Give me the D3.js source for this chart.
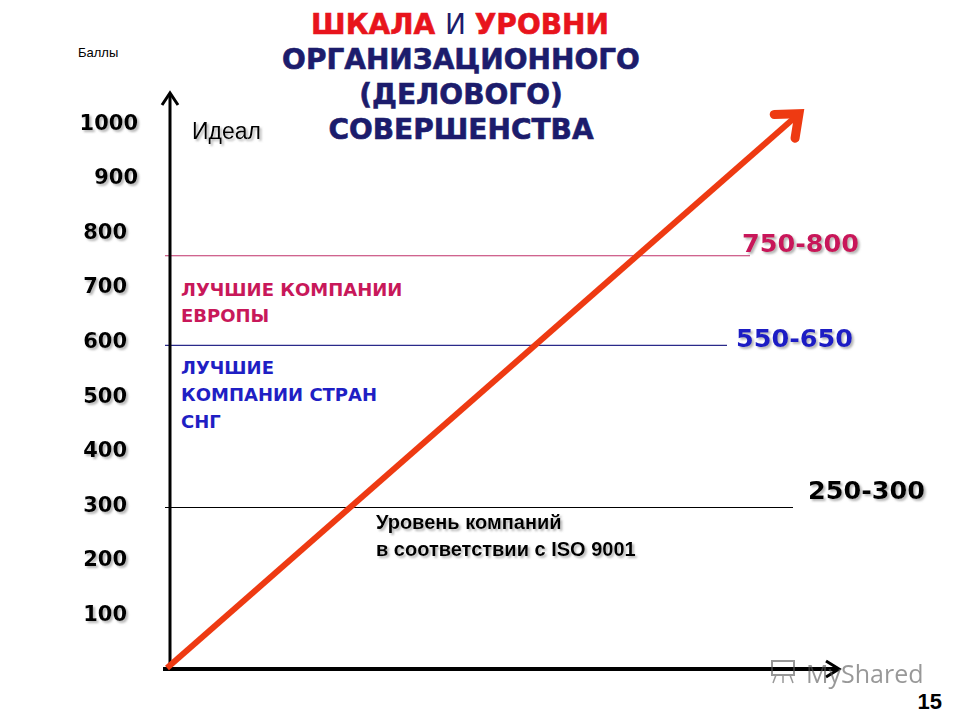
<!DOCTYPE html>
<html>
<head>
<meta charset="utf-8">
<script src="https://cdn.jsdelivr.net/npm/d3@7"></script>
<style>
  body { margin: 0; background: #fff; }
  svg { display: block; }
</style>
</head>
<body>
<div id="chart"></div>
<script>
// Data
const yTicks = [100, 200, 300, 400, 500, 600, 700, 800, 900, 1000];
const levelValues = [755, 591, 294];
const levelLabels = ["750-800", "550-650", "250-300"];
const groupTexts = [
  ["ЛУЧШИЕ КОМПАНИИ", "ЕВРОПЫ"],
  ["ЛУЧШИЕ", "КОМПАНИИ СТРАН", "СНГ"],
  ["Уровень компаний", "в соответствии с ISO 9001"]
];
const idealX = [0, 100];
const idealY = [0, 1020];

// Parameters
const w = 960;
const h = 720;
const levelColors = ["#c8185a", "#1f1fc4", "#000"];
const lineColors = ["#c0306a", "#2a2a8a", "#000"];
const lineEnds = [750, 727, 793];
const labelX = [742, 736, 808];
const labelDy = [-4, 2, -8];
const textX = [181, 181, 376];
const textDy = [40, 29, 22];
const textLead = [26, 27, 27];

const svg = d3.select("#chart").append("svg").attr("width", w).attr("height", h);

const defs = svg.append("defs");
const f = defs.append("filter").attr("id", "shadow")
  .attr("x", "-10%").attr("y", "-20%").attr("width", "130%").attr("height", "160%");
f.append("feDropShadow").attr("dx", 2).attr("dy", 2).attr("stdDeviation", 1)
  .attr("flood-color", "#777").attr("flood-opacity", 0.55);

// Scales
const xScale = d3.scaleLinear().domain([0, 100]).range([167, 802]);
const yScale = d3.scaleLinear().domain([0, 1000]).range([668, 122]);

// Title
const title = svg.append("g").attr("font-family", "DejaVu Sans").attr("font-size", 28)
  .attr("font-weight", "bold").attr("text-anchor", "middle");
const t1 = title.append("text").attr("x", 460).attr("y", 34);
t1.append("tspan").attr("fill", "#e8141c").text("ШКАЛА ");
t1.append("tspan").attr("fill", "#1c1c6c").attr("font-weight", "normal").text("И ");
t1.append("tspan").attr("fill", "#e8141c").text("УРОВНИ");
["ОРГАНИЗАЦИОННОГО", "(ДЕЛОВОГО)", "СОВЕРШЕНСТВА"].forEach((s, i) => {
  title.append("text").attr("x", 461).attr("y", 69 + i * 35).attr("fill", "#1c1c6c")
    .attr("stroke", "#1c1c6c").attr("stroke-width", 0.6).text(s);
});
t1.selectAll("tspan").filter((d, i) => i !== 1)
  .attr("stroke", "#e8141c").attr("stroke-width", 0.6);

// Y label
svg.append("text").attr("x", 78).attr("y", 57).attr("font-family", "Liberation Sans")
  .attr("font-size", 13).attr("fill", "#000").text("Баллы");

// Tick labels
svg.append("g").selectAll("text").data(yTicks).enter().append("text")
  .attr("x", (d) => (d >= 900 ? 138 : 127))
  .attr("y", (d) => yScale(d))
  .attr("dy", "0.36em")
  .attr("text-anchor", "end")
  .attr("font-family", "DejaVu Sans").attr("font-weight", "bold").attr("font-size", 21)
  .attr("filter", "url(#shadow)")
  .text((d) => d);

svg.append("text").attr("x", 192).attr("y", yScale(1000) + 17)
  .attr("font-family", "Liberation Sans").attr("font-size", 23)
  .attr("filter", "url(#shadow)").text("Идеал");

// Level lines
svg.append("g").selectAll("line").data(levelValues).enter().append("line")
  .attr("x1", 165).attr("x2", (d, i) => lineEnds[i])
  .attr("y1", (d) => yScale(d)).attr("y2", (d) => yScale(d))
  .attr("stroke", (d, i) => lineColors[i]).attr("stroke-width", 1.2);

svg.append("g").selectAll("text").data(levelValues).enter().append("text")
  .attr("x", (d, i) => labelX[i])
  .attr("y", (d, i) => yScale(d) + labelDy[i])
  .attr("font-family", "DejaVu Sans").attr("font-weight", "bold").attr("font-size", 25.5)
  .attr("fill", (d, i) => levelColors[i])
  .attr("filter", "url(#shadow)")
  .text((d, i) => levelLabels[i]);

// Group texts
groupTexts.forEach((lines, i) => {
  const g = svg.append("g")
    .attr("font-family", i < 2 ? "DejaVu Sans" : "Liberation Sans")
    .attr("font-weight", "bold")
    .attr("font-size", i < 2 ? 18 : 20)
    .attr("fill", levelColors[i])
    .attr("filter", i < 2 ? null : "url(#shadow)");
  g.selectAll("text").data(lines).enter().append("text")
    .attr("x", textX[i])
    .attr("y", (d, j) => yScale(levelValues[i]) + textDy[i] + j * textLead[i])
    .attr("textLength", i < 2 ? null : null)
    .text((d) => d);
});

// Axes
svg.append("line").attr("x1", 170).attr("x2", 170).attr("y1", 670).attr("y2", 94)
  .attr("stroke", "#000").attr("stroke-width", 3);
svg.append("path").attr("d", "M162,105 L170,93 L178,105")
  .attr("fill", "none").attr("stroke", "#000").attr("stroke-width", 3);
svg.append("line").attr("x1", 163).attr("x2", 838).attr("y1", 669).attr("y2", 669)
  .attr("stroke", "#000").attr("stroke-width", 4);
svg.append("path").attr("d", "M826,661 L839,669 L826,677")
  .attr("fill", "none").attr("stroke", "#000").attr("stroke-width", 3);

// Ideal arrow
const pts = idealX.map((x, i) => [xScale(x), yScale(idealY[i])]);
const [x0, y0] = pts[0];
const [x1, y1] = pts[1];
const ang = Math.atan2(y1 - y0, x1 - x0);
svg.append("line").attr("x1", x0).attr("y1", y0)
  .attr("x2", x1 - 10 * Math.cos(ang)).attr("y2", y1 - 10 * Math.sin(ang))
  .attr("stroke", "#ee3a12").attr("stroke-width", 6);
const head = (a) => [x1 - 28 * Math.cos(ang + a), y1 - 28 * Math.sin(ang + a)];
svg.append("path")
  .attr("d", "M" + head(0.6) + " L" + [x1 - 4 * Math.cos(ang), y1 - 4 * Math.sin(ang)] + " L" + head(-0.6))
  .attr("fill", "none").attr("stroke", "#ee3a12").attr("stroke-width", 9)
  .attr("stroke-linecap", "round").attr("stroke-linejoin", "miter");

// Watermark
const wm = svg.append("g").attr("opacity", 0.6);
wm.append("rect").attr("x", 772).attr("y", 661).attr("width", 22).attr("height", 14)
  .attr("fill", "none").attr("stroke", "#555").attr("stroke-width", 2);
wm.append("path").attr("d", "M776,675 L773,683 M790,675 L793,683 M783,675 L783,683")
  .attr("stroke", "#555").attr("stroke-width", 1.5);
wm.append("text").attr("x", 806).attr("y", 683).attr("font-family", "Open Sans")
  .attr("font-size", 25).attr("fill", "#555").text("MyShared");

// Page number
svg.append("text").attr("x", 942).attr("y", 709).attr("text-anchor", "end")
  .attr("font-family", "Liberation Sans").attr("font-weight", "bold").attr("font-size", 22)
  .text("15");
</script>
</body>
</html>
